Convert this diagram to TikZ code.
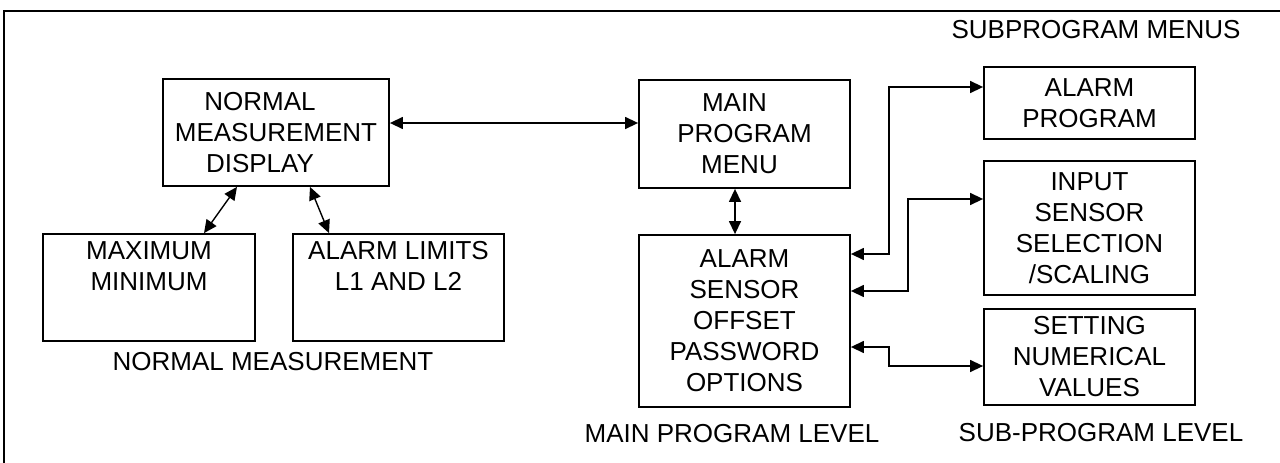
\documentclass[tikz,border=0pt]{standalone}
\usepackage{fontspec}
\setmainfont{Liberation Sans}
\usetikzlibrary{arrows.meta,calc}
\tikzset{
  box/.style={draw, line width=1.8pt, rectangle, inner sep=0pt, align=center,
              font=\fontsize{26}{31}\selectfont},
  caption/.style={anchor=base, inner sep=0pt, font=\fontsize{26}{31}\selectfont},
  link/.style={line width=1.4pt, {Triangle[length=13pt,width=12pt]}-{Triangle[length=13pt,width=12pt]}},
  frame/.style={line width=2pt}
}
\newcommand{\pad}[1]{\hspace*{#1pt}}
\begin{document}
\begin{tikzpicture}[x=1pt, y=-1pt]
\useasboundingbox (0,0) rectangle (1280,463);

% page frame (left and top edges)
\draw[frame] (4,463) -- (4,11) -- (1280,11);

% normal measurement level
\node[box, minimum width=226pt, minimum height=107pt] (nmd) at (276,132.5)
  {NORMAL\pad{32}\\MEASUREMENT\pad{12}\\DISPLAY\pad{32}};
\node[box, minimum width=212pt, minimum height=107pt,
      label={[anchor=north, yshift=-8pt, align=center, inner sep=0pt,
              font=\fontsize{26}{31}\selectfont]north:{MAXIMUM\\MINIMUM}}] (maxmin) at (149,287.5) {};
\node[box, minimum width=211pt, minimum height=107pt,
      label={[anchor=north, yshift=-8pt, align=center, inner sep=0pt,
              font=\fontsize{26}{31}\selectfont]north:{ALARM LIMITS\\L1 AND L2}}] (limits) at (398.5,287.5) {};
\node[caption] (capnm) at (273,370) {NORMAL MEASUREMENT};

% main program level
\node[box, minimum width=211pt, minimum height=108pt] (mpm) at (744.5,134)
  {MAIN\pad{20}\\PROGRAM\pad{8}\\MENU\pad{10}};
\node[box, minimum width=211pt, minimum height=172pt] (aso) at (744.5,321)
  {ALARM\\SENSOR\\OFFSET\\PASSWORD\\OPTIONS};
\node[caption] (capmp) at (732,442) {MAIN PROGRAM LEVEL};

% subprogram level
\node[caption] (capsm) at (1096,38) {SUBPROGRAM MENUS};
\node[box, minimum width=211pt, minimum height=72pt] (ap) at (1089.5,103)
  {ALARM\\PROGRAM};
\node[box, minimum width=211pt, minimum height=134pt] (iss) at (1089.5,228)
  {INPUT\\SENSOR\\SELECTION\\/SCALING};
\node[box, minimum width=211pt, minimum height=96pt] (snv) at (1089.5,357)
  {SETTING\\NUMERICAL\\VALUES};
\node[caption] (capsp) at (1101,441) {SUB-PROGRAM LEVEL};

% connectors
\draw[link] ([yshift=9.5pt]nmd.east) -- ([yshift=9.5pt]nmd.east -| mpm.west);
\draw[link] ([xshift=-39pt]nmd.south) -- ([xshift=55pt]maxmin.north);
\draw[link] ([xshift=34pt]nmd.south) -- ([xshift=-69.5pt]limits.north);
\draw[link] ([xshift=-9.5pt]mpm.south) -- ([xshift=-9.5pt]aso.north);
\draw[link] ([yshift=67pt]aso.east) -- ++(38,0) |- ([yshift=16pt]ap.west);
\draw[link] ([yshift=30pt]aso.east) -- ++(57,0) |- ([yshift=29pt]iss.west);
\draw[link] ([yshift=-26pt]aso.east) -- ++(38,0) |- ([yshift=-9pt]snv.west);
\end{tikzpicture}
\end{document}
